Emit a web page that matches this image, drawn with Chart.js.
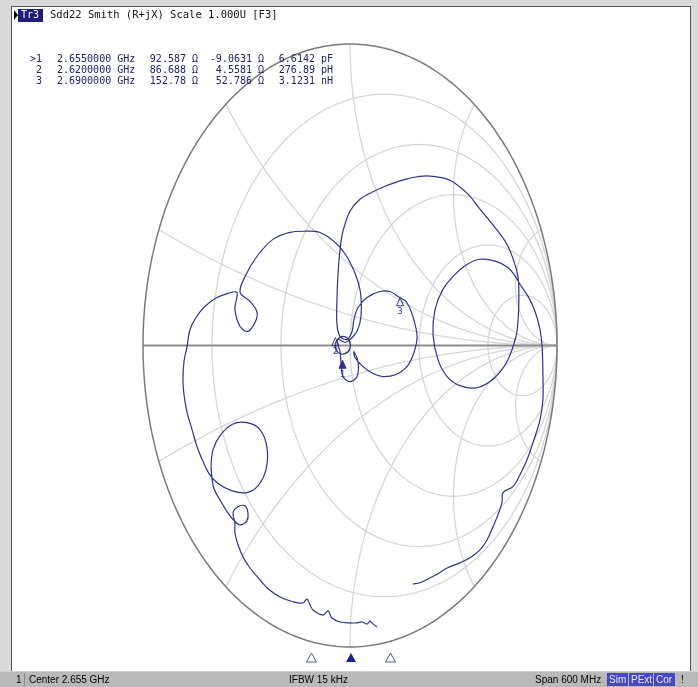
<!DOCTYPE html>
<html><head><meta charset="utf-8">
<script src="https://cdn.jsdelivr.net/npm/chart.js@4/dist/chart.umd.min.js"></script>
<style>html,body{margin:0;padding:0;background:#fff;}#wrap{width:698px;height:687px;position:relative;}</style>
</head><body><div id="wrap"><canvas id="c" width="698" height="687"></canvas></div>
<script>
// Trace: reflection coefficient (Re, Im), in sweep order
const traceGamma = [
[0.130,-0.934],[0.106,-0.920],[0.097,-0.914],[0.082,-0.924],[0.058,-0.917],[0.034,-0.920],[0.000,-0.920],[-0.048,-0.917],[-0.087,-0.904],[-0.106,-0.880],[-0.130,-0.894],[-0.179,-0.877],[-0.193,-0.860],[-0.208,-0.841],[-0.227,-0.854],[-0.275,-0.850],[-0.338,-0.834],[-0.396,-0.807],[-0.435,-0.777],[-0.483,-0.738],[-0.517,-0.701],[-0.541,-0.661],[-0.556,-0.621],[-0.556,-0.588],
[-0.565,-0.555],[-0.541,-0.535],[-0.507,-0.532],[-0.493,-0.555],[-0.498,-0.581],[-0.531,-0.595],[-0.560,-0.581],[-0.594,-0.551],[-0.628,-0.512],[-0.657,-0.475],[-0.667,-0.439],
[-0.671,-0.395],[-0.662,-0.346],[-0.628,-0.299],[-0.570,-0.262],[-0.498,-0.256],[-0.435,-0.279],[-0.401,-0.339],[-0.406,-0.412],[-0.444,-0.465],[-0.498,-0.488],[-0.570,-0.482],[-0.638,-0.458],[-0.681,-0.425],[-0.710,-0.385],[-0.739,-0.336],[-0.763,-0.279],[-0.787,-0.223],[-0.802,-0.163],[-0.807,-0.113],[-0.802,-0.053],[-0.787,-0.003],[-0.773,0.053],[-0.744,0.093],[-0.700,0.130],[-0.643,0.159],[-0.589,0.173],[-0.546,0.176],
[-0.556,0.120],[-0.531,0.063],[-0.493,0.047],[-0.459,0.076],[-0.449,0.110],[-0.483,0.146],[-0.531,0.176],[-0.507,0.229],[-0.449,0.296],[-0.372,0.352],[-0.290,0.375],[-0.227,0.379],[-0.145,0.375],[-0.063,0.336],[0.000,0.276],[0.048,0.186],[0.053,0.096],[0.034,0.047],[0.000,0.020],
[-0.024,0.010],[-0.058,0.020],[-0.072,0.000],[-0.058,-0.023],[-0.024,-0.027],[0.000,-0.010],[-0.005,0.017],[-0.034,0.030],[-0.063,0.017],
[-0.048,-0.020],[-0.043,-0.063],[-0.034,-0.103],[0.000,-0.120],[0.034,-0.103],[0.039,-0.056],[0.019,-0.020],
[0.024,-0.040],[0.063,-0.070],[0.111,-0.093],[0.159,-0.103],[0.222,-0.096],[0.275,-0.070],[0.309,-0.023],[0.324,0.030],[0.304,0.096],[0.271,0.146],[0.242,0.158],[0.193,0.179],[0.145,0.179],[0.082,0.159],[0.039,0.126],[0.019,0.086],[0.010,0.047],[-0.014,0.020],
[-0.048,0.030],[-0.063,0.070],[-0.063,0.153],[-0.058,0.236],[-0.048,0.319],[-0.034,0.379],[0.000,0.445],[0.048,0.485],[0.106,0.508],[0.169,0.528],[0.266,0.551],[0.338,0.561],[0.401,0.561],[0.483,0.548],[0.570,0.502],[0.628,0.452],[0.700,0.392],[0.758,0.336],[0.792,0.279],[0.812,0.226],
[0.816,0.153],[0.812,0.086],[0.802,0.030],[0.763,-0.047],[0.700,-0.106],[0.614,-0.140],[0.531,-0.133],[0.469,-0.103],[0.425,-0.047],[0.401,0.037],[0.411,0.120],[0.449,0.186],[0.507,0.236],[0.565,0.269],[0.628,0.286],[0.705,0.279],[0.763,0.259],[0.802,0.226],[0.821,0.203],
[0.860,0.163],[0.894,0.113],[0.918,0.053],[0.928,-0.003],[0.932,-0.096],[0.932,-0.179],[0.918,-0.246],[0.889,-0.312],[0.855,-0.379],[0.821,-0.429],[0.787,-0.468],[0.739,-0.488],[0.734,-0.522],[0.715,-0.561],[0.691,-0.601],[0.662,-0.645],[0.628,-0.678],[0.580,-0.704],[0.531,-0.721],[0.469,-0.738],[0.425,-0.757],[0.386,-0.771],[0.338,-0.787],[0.304,-0.791]
];
// Markers
const markerNames = ['1','2','3'];
const markerFreq = ['2.6550000','2.6200000','2.6900000'];
const markerR = [92.587, 86.688, 152.78];
const markerX = [-9.0631, 4.5581, 52.786];
const markerRText = ['92.587','86.688','152.78'];
const markerXText = ['-9.0631','4.5581','52.786'];
const markerLText = ['6.6142 pF','276.89 pH','3.1231 nH'];
const z0 = 100;
const centerGHz = 2.655, spanGHz = 0.6;
// Smith grid values
const gridR = [0.2, 0.5, 1, 2, 5];
const gridX = [0.2, 0.5, 1, 2, 5];

const TRACE = '#30328a';
function gammaOf(R, X){
  const a = R / z0, b = X / z0;
  const nr = a - 1, ni = b, dr = a + 1, di = b;
  const d = dr*dr + di*di;
  return {re:(nr*dr + ni*di)/d, im:(ni*dr - nr*di)/d};
}

const frameL = 12, frameR = 690, frameT = 7, frameB = 671;

const smithPlugin = {
  id:'smith',
  beforeDraw(chart){
    const ctx = chart.ctx;
    ctx.save();
    ctx.fillStyle = '#d9d9d9';
    ctx.fillRect(0,0,698,687);
    ctx.fillStyle = '#ffffff';
    ctx.fillRect(frameL, frameT, frameR-frameL, frameB-frameT);
    ctx.strokeStyle = '#555';
    ctx.lineWidth = 1;
    ctx.strokeRect(frameL-0.5, frameT-0.5, frameR-frameL+1, frameB-frameT+1);
    // title
    ctx.fillStyle = '#000';
    ctx.beginPath(); ctx.moveTo(14,10); ctx.lineTo(18,15); ctx.lineTo(14,20); ctx.closePath(); ctx.fill();
    ctx.fillStyle = '#1d1d7a';
    ctx.fillRect(18,9,25,13);
    ctx.font = '10px "DejaVu Sans Mono"';
    ctx.textBaseline = 'middle';
    ctx.fillStyle = '#ffffff';
    ctx.fillText('Tr3', 21, 15.5);
    ctx.fillStyle = '#111';
    ctx.font = '10.5px "DejaVu Sans Mono"';
    ctx.fillText('Sdd22 Smith (R+jX) Scale 1.000U [F3]', 50, 15.5);
    // status bar
    ctx.fillStyle = '#b9b9b9';
    ctx.fillRect(0, 672, 698, 15);
    ctx.fillStyle = '#d0d0d0';
    ctx.fillRect(0, 671, 698, 1);
    ctx.fillStyle = '#000';
    ctx.font = '10px "Liberation Sans"';
    ctx.textBaseline = 'middle';
    ctx.fillText('1', 16, 680);
    ctx.fillStyle = '#888'; ctx.fillRect(24,673,1,13);
    ctx.fillStyle = '#000';
    ctx.fillText('Center 2.655 GHz', 29, 680);
    ctx.fillText('IFBW 15 kHz', 289, 680);
    ctx.fillText('Span 600 MHz', 535, 680);
    const boxes = [['Sim',607,21],['PExt',629,24],['Cor',654,21]];
    boxes.forEach(b=>{
      ctx.fillStyle = '#4646c8';
      ctx.fillRect(b[1],673,b[2],13);
      ctx.fillStyle = '#e8e8ff';
      ctx.fillText(b[0], b[1]+2, 680);
    });
    ctx.fillStyle = '#000';
    ctx.fillText('!', 681, 680);
    ctx.restore();
  },
  beforeDatasetsDraw(chart){
    const ctx = chart.ctx, xs = chart.scales.x, ys = chart.scales.y;
    const P = (re, im) => [xs.getPixelForValue(re), ys.getPixelForValue(im)];
    ctx.save();
    ctx.lineWidth = 1.3;
    ctx.strokeStyle = '#d6d6d6';
    // resistance circles
    gridR.forEach(r=>{
      const c = r/(r+1), rad = 1/(r+1);
      ctx.beginPath();
      for(let i=0;i<=360;i++){
        const t = i*Math.PI/180;
        const p = P(c + rad*Math.cos(t), rad*Math.sin(t));
        if(i===0) ctx.moveTo(p[0],p[1]); else ctx.lineTo(p[0],p[1]);
      }
      ctx.stroke();
    });
    // reactance arcs
    gridX.forEach(xv=>{
      [xv,-xv].forEach(x=>{
        ctx.beginPath();
        for(let i=0;i<=400;i++){
          const r = Math.pow(10, -3 + i*6/400) - 0.001;
          const dr = r+1, d = dr*dr + x*x;
          const re = ((r-1)*dr + x*x)/d, im = (x*dr - (r-1)*x)/d;
          const p = P(re, im);
          if(i===0) ctx.moveTo(p[0],p[1]); else ctx.lineTo(p[0],p[1]);
        }
        ctx.stroke();
      });
    });
    // real axis
    ctx.strokeStyle = '#8e8e8e';
    ctx.lineWidth = 2;
    ctx.beginPath();
    let a = P(-1,0), b = P(1,0);
    ctx.moveTo(a[0],a[1]); ctx.lineTo(b[0],b[1]); ctx.stroke();
    // outer circle
    ctx.strokeStyle = '#7a7a7a';
    ctx.lineWidth = 1.5;
    ctx.beginPath();
    for(let i=0;i<=360;i++){
      const t = i*Math.PI/180;
      const p = P(Math.cos(t), Math.sin(t));
      if(i===0) ctx.moveTo(p[0],p[1]); else ctx.lineTo(p[0],p[1]);
    }
    ctx.stroke();
    ctx.restore();
  },
  afterDatasetsDraw(chart){
    const ctx = chart.ctx, xs = chart.scales.x, ys = chart.scales.y;
    ctx.save();
    ctx.font = '10px "DejaVu Sans Mono"';
    ctx.textBaseline = 'middle';
    // marker table
    const rowsY = [59, 70, 81];
    markerNames.forEach((n,i)=>{
      ctx.fillStyle = '#22226a';
      ctx.textAlign = 'right';
      ctx.fillText((i===0?'>':'') + n, 42, rowsY[i]);
      ctx.textAlign = 'left';
      ctx.fillText(markerFreq[i] + ' GHz', 57, rowsY[i]);
      ctx.textAlign = 'right';
      ctx.fillText(markerRText[i] + ' \u03a9', 198, rowsY[i]);
      ctx.fillText(markerXText[i] + ' \u03a9', 264, rowsY[i]);
      ctx.fillText(markerLText[i], 333, rowsY[i]);
    });
    // markers on the trace
    ctx.textAlign = 'center';
    markerNames.forEach((n,i)=>{
      const g = gammaOf(markerR[i], markerX[i]);
      const px = xs.getPixelForValue(g.re), py = ys.getPixelForValue(g.im);
      ctx.beginPath();
      ctx.moveTo(px, py); ctx.lineTo(px-3.5, py+8); ctx.lineTo(px+3.5, py+8); ctx.closePath();
      ctx.strokeStyle = '#30328a'; ctx.lineWidth = 1;
      if(i===0){ ctx.fillStyle = '#30328a'; ctx.fill(); }
      ctx.stroke();
      ctx.fillStyle = '#30328a';
      ctx.font = '9px "DejaVu Sans Mono"';
      ctx.fillText(n, px, py+14);
    });
    // stimulus markers on frequency axis
    const fw = frameR - frameL;
    markerFreq.forEach((f,i)=>{
      const fx = frameL + ((parseFloat(f) - (centerGHz - spanGHz/2))/spanGHz)*fw;
      ctx.beginPath();
      ctx.moveTo(fx, 653); ctx.lineTo(fx-5, 662); ctx.lineTo(fx+5, 662); ctx.closePath();
      if(i===0){ ctx.fillStyle = '#1d1d8a'; ctx.fill(); }
      else { ctx.strokeStyle = '#555a8a'; ctx.lineWidth = 1; ctx.stroke(); }
    });
    ctx.restore();
  }
};

new Chart(document.getElementById('c'), {
  type:'scatter',
  data:{ datasets:[{
    data: traceGamma.map(p=>({x:p[0], y:p[1]})),
    showLine:true, borderColor:TRACE, borderWidth:1.2, pointRadius:0, tension:0.35, fill:false
  }]},
  options:{
    responsive:false, animation:false, devicePixelRatio:1,
    layout:{padding:{left:143, right:141, top:44, bottom:40}},
    scales:{
      x:{type:'linear', min:-1, max:1, display:false},
      y:{type:'linear', min:-1, max:1, display:false}
    },
    plugins:{legend:{display:false}, tooltip:{enabled:false}}
  },
  plugins:[smithPlugin]
});
</script></body></html>
